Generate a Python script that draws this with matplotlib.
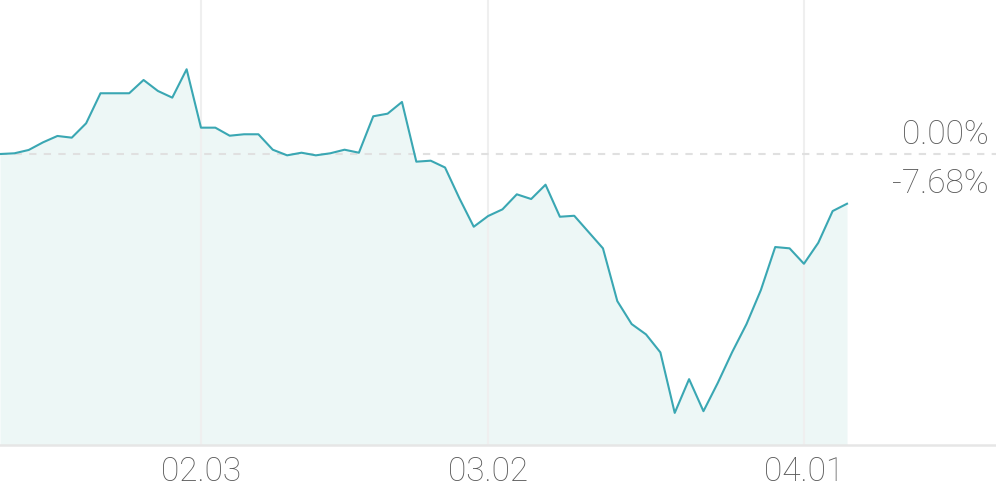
import matplotlib
matplotlib.use("Agg")
import matplotlib.pyplot as plt
from matplotlib.transforms import ScaledTranslation

# daily return (%) relative to start
values = [-0.08, 0.03, 0.54, 1.71, 2.68, 2.42, 4.62, 9.21, 9.21, 9.21,
          11.24, 9.56, 8.54, 12.88, 3.95, 3.95, 2.72, 2.94, 2.94, 0.58,
          -0.28, 0.12, -0.28, 0.03, 0.58, 0.12, 5.69, 6.09, 7.88, -1.25,
          -1.10, -2.14, -6.85, -11.20, -9.56, -8.54, -6.24, -6.96, -4.77, -9.67,
          -9.52, -12.01, -14.50, -22.57, -26.08, -27.66, -30.41, -39.66, -34.50, -39.40,
          -35.07, -30.37, -26.08, -20.88, -14.30, -14.50, -16.86, -13.65, -8.80, -7.68]
tick_idx = [14, 34, 56]
tick_labels = ["02.03", "03.02", "04.01"]
ref_label = "0.00%"
last_label = "-7.68%"

plt.rcParams['font.family'] = ['Roboto', 'DejaVu Sans']

W, H = 996, 490
fig = plt.figure(figsize=(W / 100, H / 100), dpi=100)
ax = fig.add_axes([0, 1 - 445 / 490, 1, 445 / 490])

ymin, ymax = -44.57, 23.47
x = list(range(len(values)))
line_c = "#3aa7b3"
text_c = "#5a5a5a"
ax.fill_between(x, values, ymin, color="#edf7f6", lw=0, zorder=1)
ax.plot(x, values, color=line_c, lw=1.5, zorder=3)

for t in tick_idx:
    ax.axvline(t, color="#efefef", lw=1.5, zorder=2)
ax.axhline(0, color="#e0e0e0", lw=1.5, ls=(0, (3.5, 3.5)), zorder=2)

ax.set_xlim(0, W / 14.356)
ax.set_ylim(ymin, ymax)
ax.set_xticks(tick_idx)
ax.set_xticklabels(tick_labels, fontsize=24, color=text_c, fontweight="light")
ax.tick_params(axis="x", length=0, pad=8)
ax.set_yticks([])
for s in ["top", "left", "right"]:
    ax.spines[s].set_visible(False)
ax.spines["bottom"].set_color("#e6e6e6")
ax.spines["bottom"].set_linewidth(1.8)

base = ax.get_yaxis_transform()
ax.text(0.993, 0, ref_label, ha="right", va="baseline", fontsize=24, color=text_c,
        fontweight="light",
        transform=base + ScaledTranslation(0, 10 / 100, fig.dpi_scale_trans))
ax.text(0.993, 0, last_label, ha="right", va="baseline", fontsize=24, color=text_c,
        fontweight="light",
        transform=base + ScaledTranslation(0, -39 / 100, fig.dpi_scale_trans))

fig.savefig("out.png", dpi=100)
